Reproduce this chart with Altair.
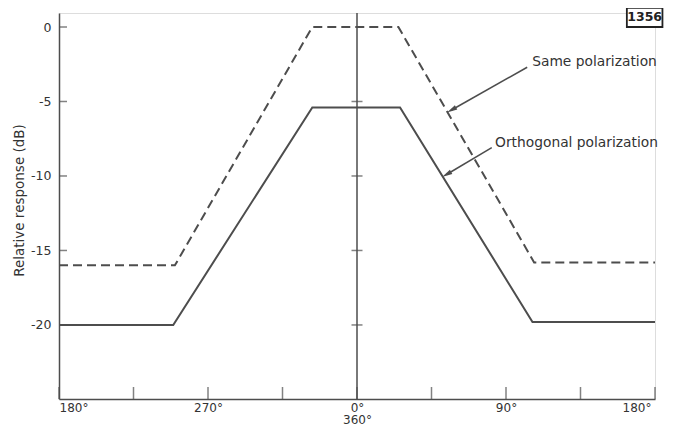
import altair as alt
import pandas as pd

# ---- data ----
angles_same = [-180, -110, -27, 25, 107, 180]
resp_same = [-16.0, -16.0, 0.0, 0.0, -15.8, -15.8]
angles_orth = [-180, -111, -27, 26, 106, 180]
resp_orth = [-20.0, -20.0, -5.4, -5.4, -19.8, -19.8]

x_label_values = [-180, -90, 0, 90, 180]
x_tick_values = [-180, -135, -90, -45, 0, 45, 90, 135, 180]
y_tick_values = [0, -5, -10, -15, -20]
center_tick_values = [-5, -10, -15, -20]

X_DOMAIN = [-180, 180]
Y_DOMAIN = [-24.97, 0.94]
INK = "#4d4d4d"
TXT = "#333333"
FONT = "DejaVu Sans"

lines = pd.DataFrame({
    "angle": angles_same + angles_orth,
    "resp": resp_same + resp_orth,
    "series": ["Same polarization"] * len(angles_same) + ["Orthogonal polarization"] * len(angles_orth),
    "order": list(range(len(angles_same))) + list(range(len(angles_orth))),
})

xs = alt.Scale(domain=X_DOMAIN, nice=False, zero=False)
ys = alt.Scale(domain=Y_DOMAIN, nice=False, zero=False)

x_axis = alt.Axis(
    values=x_label_values, ticks=False, grid=False, domainColor=INK, domainWidth=1.5,
    labelExpr="datum.value == 0 ? ['0°', '360°'] : datum.value == -90 ? '270°' : datum.value == 90 ? '90°' : '180°'",
    labelFont=FONT, labelFontSize=12, labelColor=TXT, labelPadding=3, title=None,
    labelLineHeight=12.5,
    labelOffset={"condition": {"test": "datum.value == 180", "value": -4}, "value": 0},
)
y_axis = alt.Axis(
    values=y_tick_values, ticks=False, grid=False, domainColor=INK, domainWidth=1.5,
    labelExpr="toString(datum.value)", labelFont=FONT, labelFontSize=12.5, labelColor=TXT,
    labelPadding=8, title="Relative response (dB)", titleFont=FONT, titleFontSize=13.5,
    titleFontWeight="normal", titleColor=TXT, titleX=-40, titleY=187, titleBaseline="middle",
)

base_lines = alt.Chart(lines)

same = base_lines.transform_filter(alt.datum.series == "Same polarization").mark_line(
    color=INK, strokeWidth=2, strokeDash=[9, 5]
).encode(
    x=alt.X("angle:Q", scale=xs, axis=x_axis),
    y=alt.Y("resp:Q", scale=ys, axis=y_axis),
    order="order:Q",
)
orth = base_lines.transform_filter(alt.datum.series == "Orthogonal polarization").mark_line(
    color=INK, strokeWidth=2
).encode(
    x=alt.X("angle:Q", scale=xs),
    y=alt.Y("resp:Q", scale=ys),
    order="order:Q",
)

# central vertical axis line
center_line = alt.Chart(pd.DataFrame({"angle": [0], "y1": [Y_DOMAIN[0]], "y2": [Y_DOMAIN[1]]})).mark_rule(
    color=INK, strokeWidth=1.5
).encode(x=alt.X("angle:Q", scale=xs), y=alt.Y("y1:Q", scale=ys), y2="y2:Q")

center_ticks = alt.Chart(pd.DataFrame({"resp": center_tick_values, "angle": [0] * len(center_tick_values)})).mark_tick(
    color=INK, thickness=1.5, size=11, orient="horizontal"
).encode(x=alt.X("angle:Q", scale=xs), y=alt.Y("resp:Q", scale=ys))

x_ticks = alt.Chart(pd.DataFrame({"angle": x_tick_values, "resp": [Y_DOMAIN[0]] * len(x_tick_values)})).mark_tick(
    color=INK, thickness=1.5, size=12, orient="vertical", yOffset=-6
).encode(x=alt.X("angle:Q", scale=xs), y=alt.Y("resp:Q", scale=ys))

y_ticks = alt.Chart(pd.DataFrame({"resp": y_tick_values, "angle": [X_DOMAIN[0]] * len(y_tick_values)})).mark_tick(
    color=INK, thickness=1.5, size=8, orient="horizontal", xOffset=4
).encode(x=alt.X("angle:Q", scale=xs), y=alt.Y("resp:Q", scale=ys))

# annotations (in data coordinates)
ann_text = pd.DataFrame({
    "angle": [104.6, 82.2],
    "resp": [-2.35, -7.8],
    "label": ["Same polarization", "Orthogonal polarization"],
})
ann_lines = pd.DataFrame({
    "angle": [102.8, 57.1, 81.4, 54.1],
    "resp": [-2.7, -5.57, -8.1, -9.9],
    "id": ["a", "a", "b", "b"],
})
ann_heads = pd.DataFrame({"angle": [57.1, 54.1], "resp": [-5.57, -9.9]})

texts = alt.Chart(ann_text).mark_text(
    align="left", baseline="middle", font=FONT, fontSize=13.8, color=TXT, dx=2
).encode(x=alt.X("angle:Q", scale=xs), y=alt.Y("resp:Q", scale=ys), text="label:N")

arrows = alt.Chart(ann_lines).mark_line(color=INK, strokeWidth=1.5).encode(
    x=alt.X("angle:Q", scale=xs), y=alt.Y("resp:Q", scale=ys), detail="id:N"
)
heads = alt.Chart(ann_heads).mark_point(
    shape="M0,-1L0.45,1L-0.45,1Z", filled=True, color=INK, opacity=1, size=110, angle=240
).encode(x=alt.X("angle:Q", scale=xs), y=alt.Y("resp:Q", scale=ys))

# figure number box
box = alt.Chart(pd.DataFrame({"a1": [163.0], "a2": [184.5], "r1": [0.0], "r2": [1.28]})).mark_rect(
    fill="white", stroke="#222", strokeWidth=1.8, clip=False
).encode(x=alt.X("a1:Q", scale=xs), x2="a2:Q", y=alt.Y("r1:Q", scale=ys), y2="r2:Q")
box_text = alt.Chart(pd.DataFrame({"angle": [173.75], "resp": [0.64], "label": ["1356"]})).mark_text(
    font=FONT, fontSize=12.5, fontWeight="bold", color="#222", baseline="middle"
).encode(x=alt.X("angle:Q", scale=xs), y=alt.Y("resp:Q", scale=ys), text="label:N")

chart = alt.layer(
    center_line, center_ticks, x_ticks, y_ticks, same, orth, arrows, heads, texts, box, box_text
).properties(
    width=596, height=386,
    autosize=alt.AutoSizeParams(type="none"),
    padding={"left": 51, "top": 5, "right": 10, "bottom": 27},
).configure_view(stroke=None).configure(background="white")

chart.save("out.html", embed_options={"renderer": "svg", "actions": False})
